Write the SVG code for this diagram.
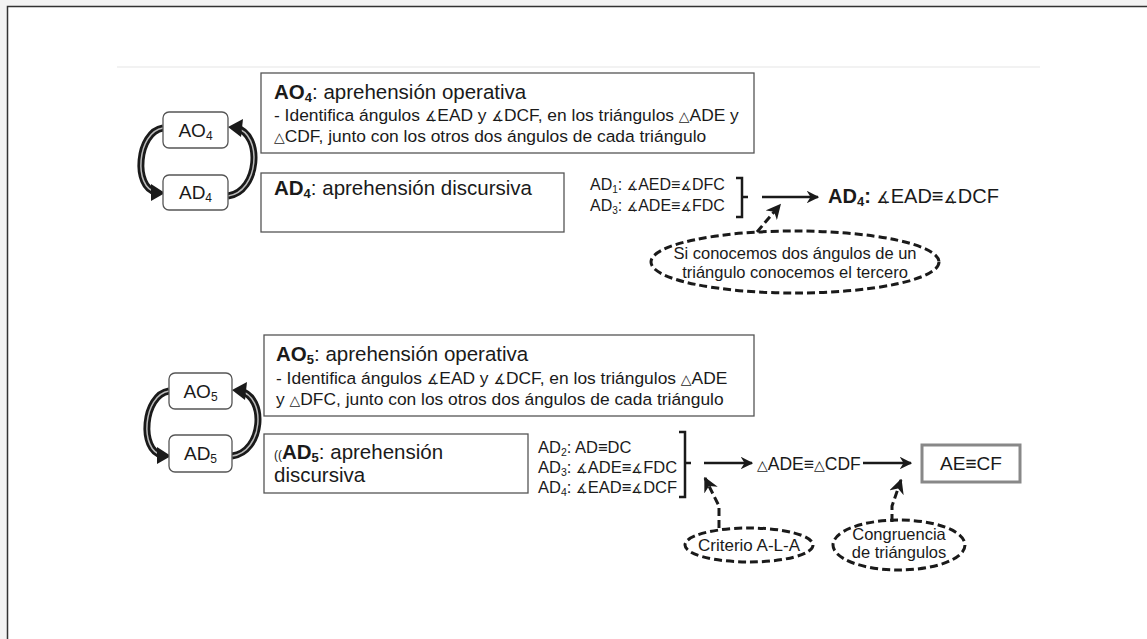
<svg xmlns="http://www.w3.org/2000/svg" width="1147" height="639" viewBox="0 0 1147 639">
<defs>
<style>
.t{font-family:"Liberation Sans","DejaVu Sans",Arial,sans-serif;fill:#1a1a1a}
.s{font-family:"DejaVu Sans",sans-serif;font-size:0.8em}
.box{fill:#fff;stroke:#555;stroke-width:1.3}
.node{fill:#fff;stroke:#555;stroke-width:1.3}
.dash{fill:none;stroke:#1a1a1a;stroke-width:3;stroke-dasharray:8 4}
.line{fill:none;stroke:#1a1a1a;stroke-width:2.5}
.cur{fill:none;stroke:#1a1a1a;stroke-width:7}
.curin{fill:none;stroke:#bbb;stroke-width:1.5}
</style>
<marker id="ah" viewBox="0 0 10 10" refX="9" refY="5" markerWidth="5" markerHeight="5" orient="auto" markerUnits="strokeWidth">
<path d="M0,0 L10,5 L0,10 L3,5 Z" fill="#1a1a1a"/>
</marker>
</defs>
<rect x="0" y="0" width="1147" height="639" fill="#f3f3f3"/>
<rect x="7.5" y="6.5" width="1145" height="640" fill="#fff" stroke="#333" stroke-width="1.5"/>
<line x1="117" y1="67" x2="1040" y2="67" stroke="#e6e6e6" stroke-width="1.2"/>

<g id="connectors">
<path class="cur" d="M163,128 C137,132 133,188 156,192"/>
<path class="curin" d="M163,128 C137,132 133,188 156,192"/>
<path d="M151,184 L165,193 L151,201 Z" fill="#1a1a1a"/>
<path class="cur" d="M228,196 C259,192 263,134 236,128"/>
<path class="curin" d="M228,196 C259,192 263,134 236,128"/>
<path d="M243,119 L228,127 L241,137 Z" fill="#1a1a1a"/>

<path class="cur" d="M169,391 C143,395 139,451 162,455"/>
<path class="curin" d="M169,391 C143,395 139,451 162,455"/>
<path d="M157,447 L171,456 L157,464 Z" fill="#1a1a1a"/>
<path class="cur" d="M232,456 C263,452 267,397 240,391"/>
<path class="curin" d="M232,456 C263,452 267,397 240,391"/>
<path d="M247,382 L232,390 L245,400 Z" fill="#1a1a1a"/>

<path class="line" d="M736,178 L742,178 L742,217 L736,217 M742,197 L748,197"/>
<line class="line" x1="762" y1="197" x2="818" y2="197" marker-end="url(#ah)"/>
<path class="dash" d="M757,232 L768,219 L780,205" marker-end="url(#ah)"/>

<path class="line" d="M679,432 L685,432 L685,497 L679,497 M685,463 L691,463"/>
<line class="line" x1="704" y1="463" x2="752" y2="463" marker-end="url(#ah)"/>
<line class="line" x1="863" y1="463" x2="911" y2="463" marker-end="url(#ah)"/>
<path class="dash" d="M719,528 L719,506 L705,478" marker-end="url(#ah)"/>
<path class="dash" d="M892,522 L892,506 L901,480" marker-end="url(#ah)"/>
</g>

<g id="node-ao4"><rect class="node" x="163" y="112" width="65" height="36" rx="6"/><text class="t" x="195.5" y="137" font-size="19" text-anchor="middle">AO<tspan font-size="12" dy="3">4</tspan></text></g>
<g id="node-ad4"><rect class="node" x="163" y="175" width="65" height="35" rx="6"/><text class="t" x="195.5" y="199" font-size="19" text-anchor="middle">AD<tspan font-size="12" dy="3">4</tspan></text></g>
<g id="node-ao5"><rect class="node" x="169" y="373" width="63" height="36" rx="6"/><text class="t" x="200.5" y="398" font-size="19" text-anchor="middle">AO<tspan font-size="12" dy="3">5</tspan></text></g>
<g id="node-ad5"><rect class="node" x="169" y="435" width="63" height="37" rx="6"/><text class="t" x="200.5" y="460" font-size="19" text-anchor="middle">AD<tspan font-size="12" dy="3">5</tspan></text></g>

<g id="box-ao4">
<rect class="box" x="261" y="73" width="493" height="80"/>
<text class="t" x="274" y="99" font-size="20.5"><tspan font-weight="bold">AO</tspan><tspan font-weight="bold" font-size="13" dy="3">4</tspan><tspan dy="-3">: aprehensión operativa</tspan></text>
<text class="t" x="274" y="121" font-size="17.4">- Identifica ángulos <tspan class="s">∡</tspan>EAD y <tspan class="s">∡</tspan>DCF, en los triángulos <tspan class="s">△</tspan>ADE y</text>
<text class="t" x="274" y="142" font-size="17.4"><tspan class="s">△</tspan>CDF, junto con los otros dos ángulos de cada triángulo</text>
</g>
<g id="box-ad4">
<rect class="box" x="261" y="173" width="303" height="59"/>
<text class="t" x="274" y="195" font-size="20.5"><tspan font-weight="bold">AD</tspan><tspan font-weight="bold" font-size="13" dy="3">4</tspan><tspan dy="-3">: aprehensión discursiva</tspan></text>
</g>
<g id="premises-top">
<text class="t" x="590" y="190" font-size="16">AD<tspan font-size="10" dy="3">1</tspan><tspan dy="-3">: <tspan class="s">∡</tspan>AED≡<tspan class="s">∡</tspan>DFC</tspan></text>
<text class="t" x="590" y="211" font-size="16">AD<tspan font-size="10" dy="3">3</tspan><tspan dy="-3">: <tspan class="s">∡</tspan>ADE≡<tspan class="s">∡</tspan>FDC</tspan></text>
</g>
<g id="result-top">
<text class="t" x="828" y="203" font-size="20"><tspan font-weight="bold">AD</tspan><tspan font-weight="bold" font-size="13" dy="3">4</tspan><tspan font-weight="bold" dy="-3">:</tspan> <tspan class="s">∡</tspan>EAD≡<tspan class="s">∡</tspan>DCF</text>
</g>
<g id="note-top">
<ellipse class="dash" cx="795" cy="262" rx="144" ry="31"/>
<text class="t" x="795" y="259" font-size="16.5" text-anchor="middle">Si conocemos dos ángulos de un</text>
<text class="t" x="795" y="278" font-size="16.5" text-anchor="middle">triángulo conocemos el tercero</text>
</g>

<g id="box-ao5">
<rect class="box" x="264" y="335" width="490" height="81"/>
<text class="t" x="276" y="361" font-size="20.5"><tspan font-weight="bold">AO</tspan><tspan font-weight="bold" font-size="13" dy="3">5</tspan><tspan dy="-3">: aprehensión operativa</tspan></text>
<text class="t" x="276" y="384" font-size="17.4">- Identifica ángulos <tspan class="s">∡</tspan>EAD y <tspan class="s">∡</tspan>DCF, en los triángulos <tspan class="s">△</tspan>ADE</text>
<text class="t" x="276" y="405" font-size="17.4">y <tspan class="s">△</tspan>DFC, junto con los otros dos ángulos de cada triángulo</text>
</g>
<g id="box-ad5">
<rect class="box" x="264" y="434" width="264" height="59"/>
<text class="t" x="274" y="459" font-size="20.5"><tspan font-size="12">((</tspan><tspan font-weight="bold">AD</tspan><tspan font-weight="bold" font-size="13" dy="3">5</tspan><tspan dy="-3">: aprehensión</tspan></text>
<text class="t" x="274" y="482" font-size="20.5">discursiva</text>
</g>
<g id="premises-bottom">
<text class="t" x="538" y="453" font-size="16.5">AD<tspan font-size="10.5" dy="3">2</tspan><tspan dy="-3">: AD≡DC</tspan></text>
<text class="t" x="538" y="473" font-size="16.5">AD<tspan font-size="10.5" dy="3">3</tspan><tspan dy="-3">: <tspan class="s">∡</tspan>ADE≡<tspan class="s">∡</tspan>FDC</tspan></text>
<text class="t" x="538" y="493" font-size="16.5">AD<tspan font-size="10.5" dy="3">4</tspan><tspan dy="-3">: <tspan class="s">∡</tspan>EAD≡<tspan class="s">∡</tspan>DCF</tspan></text>
</g>
<g id="congruence">
<text class="t" x="757" y="470" font-size="17.5"><tspan class="s">△</tspan>ADE≡<tspan class="s">△</tspan>CDF</text>
</g>
<g id="result-bottom">
<rect x="922" y="445" width="98" height="37" fill="#fff" stroke="#888" stroke-width="3"/>
<text class="t" x="971" y="470" font-size="19" text-anchor="middle">AE≡CF</text>
</g>
<g id="note-ala">
<ellipse class="dash" cx="749" cy="545" rx="64" ry="17"/>
<text class="t" x="749" y="551" font-size="17" text-anchor="middle">Criterio A-L-A</text>
</g>
<g id="note-congr">
<ellipse class="dash" cx="899" cy="545" rx="66" ry="25"/>
<text class="t" x="899" y="540" font-size="16.5" text-anchor="middle">Congruencia</text>
<text class="t" x="899" y="558" font-size="16.5" text-anchor="middle">de triángulos</text>
</g>
</svg>
